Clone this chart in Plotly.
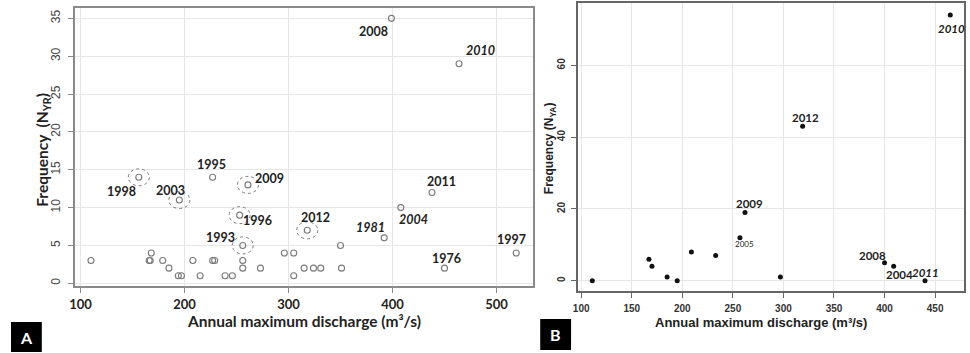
import plotly.graph_objects as go

# ---------------- DATA ----------------
# Panel A: annual maximum discharge vs frequency N_YR
a_x = [110, 166, 167, 168, 179, 185, 194, 197, 195, 156, 208, 215, 227, 229, 227,
       239, 246, 253, 256, 256, 256, 261, 273, 296, 305, 305, 315, 318, 324, 331,
       350, 351, 392, 399, 408, 438, 450, 464, 519]
a_y = [3, 3, 3, 4, 3, 2, 1, 1, 11, 14, 3, 1, 3, 3, 14,
       1, 1, 9, 5, 3, 2, 13, 2, 4, 4, 1, 2, 7, 2, 2,
       5, 2, 6, 35, 10, 12, 2, 29, 4]
a_year = ["", "", "", "", "", "", "", "", "2003", "1998", "", "", "", "", "1995",
          "", "", "1996", "1993", "", "", "2009", "", "", "", "", "", "2012", "", "",
          "", "", "1981", "2008", "2004", "2011", "1976", "2010", "1997"]
a_circled = ["1998", "2003", "2009", "1996", "1993", "2012"]
a_italic = ["2010", "1981", "2004"]
a_xticks = [100, 200, 300, 400, 500]
a_yticks = [0, 5, 10, 15, 20, 25, 30, 35]

# Panel B: annual maximum discharge vs frequency N_YA
b_x = [111, 167, 170, 185, 195, 209, 233, 257, 262, 297, 319, 400, 409, 440, 465]
b_y = [0, 6, 4, 1, 0, 8, 7, 12, 19, 1, 43, 5, 4, 0, 74]
b_year = ["", "", "", "", "", "", "", "2005", "2009", "", "2012", "2008", "2004", "2011", "2010"]
b_italic = ["2011", "2010"]
b_xticks = [100, 150, 200, 250, 300, 350, 400, 450]
b_yticks = [0, 20, 40, 60]

# ---------------- STYLE ----------------
W, H = 970, 353
FA = "Lato, 'Open Sans', sans-serif"
FB = "'Liberation Sans', Arial, sans-serif"

# label offsets in pixels (dx right, dy down)
a_off = {"2008": (-18, 13), "2010": (21, -13), "1995": (-1, -13), "1998": (-17, 14),
         "2003": (-9, -10), "2009": (22, -6), "1996": (18, 5), "1993": (-22, -8),
         "2012": (8, -13), "1981": (-14, -10), "2004": (13, 12), "2011": (10, -11),
         "1976": (2, -10), "1997": (-5, -13)}
b_off = {"2005": (5, 6), "2009": (5, -9), "2012": (3, -9), "2008": (-12, -7),
         "2004": (6, 8), "2011": (0, -8), "2010": (1, 13)}

def px(v, tot):
    return v / tot

fig = go.Figure()

fig.add_trace(go.Scatter(x=a_x, y=a_y, mode="markers", xaxis="x", yaxis="y",
                         marker=dict(symbol="circle-open", size=6, color="#7a7a7a",
                                     line=dict(width=1.1, color="#7a7a7a")),
                         showlegend=False, hoverinfo="x+y"))
fig.add_trace(go.Scatter(x=b_x, y=b_y, mode="markers", xaxis="x2", yaxis="y2",
                         marker=dict(symbol="circle", size=5, color="#111"),
                         showlegend=False, hoverinfo="x+y"))

annotations = []
shapes = []

for x, y, yr in zip(a_x, a_y, a_year):
    if not yr:
        continue
    dx, dy = a_off[yr]
    txt = f"<i>{yr}</i>" if yr in a_italic else yr
    annotations.append(dict(x=x, y=y, xref="x", yref="y", text=txt, showarrow=False,
                            xshift=dx, yshift=-dy, xanchor="center", yanchor="middle",
                            font=dict(family=FA, size=12.5, color="#222", weight="bold")))
    if yr in a_circled:
        shapes.append(dict(type="circle", xref="x", yref="y", xsizemode="pixel",
                           ysizemode="pixel", xanchor=x, yanchor=y,
                           x0=-10.5, x1=10.5, y0=-8.5, y1=8.5,
                           line=dict(color="#7a7a7a", width=1, dash="dot")))

for x, y, yr in zip(b_x, b_y, b_year):
    if not yr:
        continue
    dx, dy = b_off[yr]
    txt = f"<i>{yr}</i>" if yr in b_italic else yr
    small = yr == "2005"
    annotations.append(dict(x=x, y=y, xref="x2", yref="y2", text=txt, showarrow=False,
                            xshift=dx, yshift=-dy, xanchor="center", yanchor="middle",
                            font=dict(family=FA, size=8 if small else 11.5, color="#222",
                                      weight="normal" if small else "bold")))

# axis titles
annotations += [
    dict(x=px(301, W), y=1 - px(321, H), xref="paper", yref="paper", showarrow=False,
         text="Annual maximum discharge (m³/s)", xanchor="center", yanchor="middle",
         font=dict(family=FA, size=15.5, color="#222", weight="bold")),
    dict(x=px(38, W), y=1 - px(150, H), xref="paper", yref="paper", showarrow=False,
         text="Frequency  (N<sub>YR</sub>)", textangle=-90, xanchor="center", yanchor="middle",
         font=dict(family=FA, size=15.5, color="#222", weight="bold")),
    dict(x=px(760, W), y=1 - px(322, H), xref="paper", yref="paper", showarrow=False,
         text="Annual maximum discharge (m³/s)", xanchor="center", yanchor="middle",
         font=dict(family=FB, size=13, color="#222", weight="bold")),
    dict(x=px(548, W), y=1 - px(148, H), xref="paper", yref="paper", showarrow=False,
         text="Frequency (N<sub>YA</sub>)", textangle=-90, xanchor="center", yanchor="middle",
         font=dict(family=FB, size=12, color="#222", weight="bold")),
    dict(x=px(21.5, W), y=1 - px(337, H), xref="paper", yref="paper", showarrow=False,
         text="A", xanchor="center", yanchor="middle",
         font=dict(family=FA, size=16, color="white", weight="bold")),
    dict(x=px(553.5, W), y=1 - px(334.5, H), xref="paper", yref="paper", showarrow=False,
         text="B", xanchor="center", yanchor="middle",
         font=dict(family=FA, size=16, color="white", weight="bold")),
]

shapes += [
    dict(type="rect", xref="paper", yref="paper", x0=px(6, W), x1=px(37, W),
         y0=1 - px(352, H), y1=1 - px(322, H), fillcolor="black", line=dict(width=0)),
    dict(type="rect", xref="paper", yref="paper", x0=px(538, W), x1=px(569, W),
         y0=1 - px(350, H), y1=1 - px(319, H), fillcolor="black", line=dict(width=0)),
]

grid = "#e6e6e6"
fig.update_layout(
    width=W, height=H, margin=dict(l=0, r=0, t=0, b=0),
    paper_bgcolor="white", plot_bgcolor="white",
    annotations=annotations, shapes=shapes,
    xaxis=dict(domain=[px(70, W), px(531, W)], range=[94.3, 535.4], tickvals=a_xticks,
               showgrid=True, gridcolor=grid, zeroline=False, showline=True, mirror=True,
               linecolor="#8a8a8a", linewidth=1.5, ticks="outside", ticklen=5,
               tickcolor="#8a8a8a", anchor="y", ticklabelstandoff=1,
               tickfont=dict(family=FA, size=13, color="#222", weight="bold")),
    yaxis=dict(domain=[1 - px(286, H), 1 - px(8, H)], range=[-0.36, 36.37], tickvals=a_yticks,
               showgrid=True, gridcolor=grid, zeroline=False, showline=True, mirror=True,
               linecolor="#8a8a8a", linewidth=1.5, ticks="outside", ticklen=5,
               tickcolor="#8a8a8a", tickangle=-90, anchor="x", ticklabelstandoff=3,
               tickfont=dict(family=FB, size=12, color="#444")),
    xaxis2=dict(domain=[px(576, W), px(964, W)], range=[96.9, 478.6], tickvals=b_xticks,
                showgrid=True, gridcolor=grid, zeroline=False, showline=True, mirror=True,
                linecolor="#666", linewidth=1.5, ticks="outside", ticklen=5,
                tickcolor="#666", anchor="y2", ticklabelstandoff=2,
                tickfont=dict(family=FB, size=10, color="#333", weight="bold")),
    yaxis2=dict(domain=[1 - px(291.3, H), 1 - px(3.3, H)], range=[-2.95, 77.27], tickvals=b_yticks,
                showgrid=True, gridcolor=grid, zeroline=False, showline=True, mirror=True,
                linecolor="#666", linewidth=1.5, ticks="outside", ticklen=5,
                tickcolor="#666", tickangle=-90, anchor="x2", ticklabelstandoff=2,
                tickfont=dict(family=FB, size=10, color="#333", weight="bold")),
)

fig.write_html("out.html")
